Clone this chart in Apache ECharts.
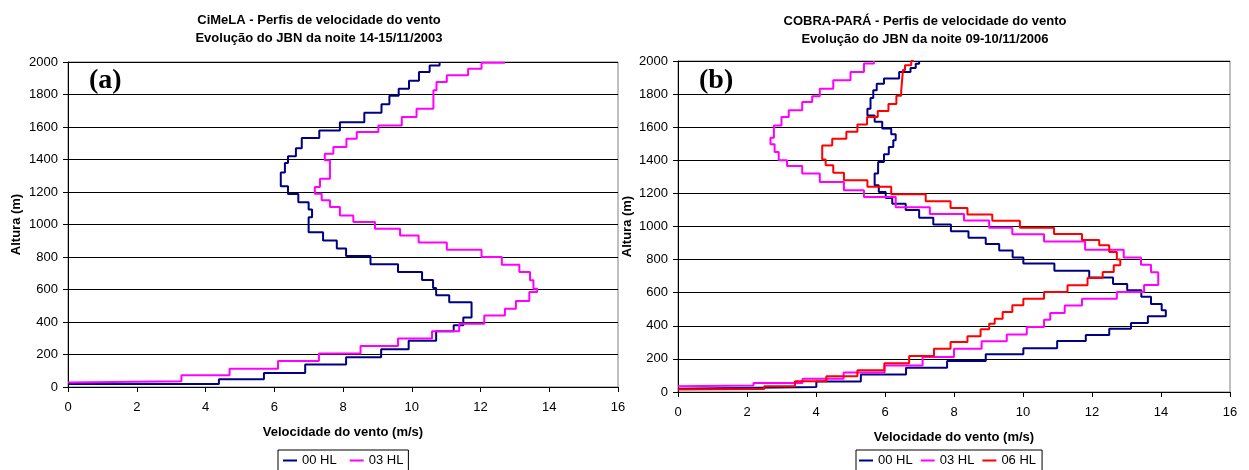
<!DOCTYPE html>
<html>
<head>
<meta charset="utf-8">
<script src="https://cdn.jsdelivr.net/npm/echarts@6/dist/echarts.min.js"></script>
<style>
  html, body { margin: 0; padding: 0; background: #ffffff; }
  #chart { width: 1249px; height: 470px; }
</style>
</head>
<body>
<div id="chart"></div>
<script>
// ---- Wind speed profiles: speed (m/s) per height level (m), bottom of each level ----

// (a) CiMeLA, night 14-15/11/2003
const cimela00Speed  = [0, 4.39, 5.70, 6.90, 8.09, 9.11, 9.91, 10.71, 11.22, 11.50, 11.74, 11.09, 10.71, 10.62, 10.30, 9.60, 8.80, 8.09, 7.82, 7.42, 7.00, 7.10, 7.00, 6.70, 6.40, 6.19, 6.31, 6.40, 6.63, 6.80, 7.31, 7.91, 8.62, 9.12, 9.35, 9.62, 9.92, 10.21, 10.52, 10.81, 10.81];
const cimela00Height = [18, 18, 47, 86, 138, 183, 232, 284, 343, 380, 428, 522, 565, 610, 658, 707, 756, 806, 853, 902, 952, 1045, 1092, 1137, 1188, 1235, 1320, 1378, 1420, 1470, 1532, 1578, 1630, 1688, 1740, 1792, 1836, 1884, 1938, 1978, 2000];

const cimela03Speed  = [0, 3.30, 4.70, 6.11, 7.30, 8.51, 9.60, 10.59, 11.38, 12.11, 12.71, 13.03, 13.42, 13.65, 13.54, 13.44, 13.13, 12.62, 12.03, 11.02, 10.20, 9.66, 8.93, 8.30, 7.91, 7.62, 7.38, 7.18, 7.33, 7.62, 7.47, 7.72, 8.10, 8.40, 9.03, 9.71, 10.14, 10.63, 10.72, 11.02, 11.64, 12.03, 12.71];
const cimela03Height = [27, 35, 72, 113, 160, 206, 253, 298, 343, 390, 440, 482, 530, 585, 605, 657, 708, 753, 800, 845, 890, 933, 974, 1015, 1056, 1108, 1149, 1190, 1231, 1282, 1395, 1436, 1477, 1528, 1569, 1610, 1662, 1713, 1826, 1877, 1918, 1959, 1996];

// (b) COBRA-PARÁ, night 09-10/11/2006
const cobra00Speed  = [0, 4.01, 5.30, 6.61, 7.80, 8.92, 10.01, 10.99, 11.82, 12.50, 13.13, 13.62, 14.14, 14.02, 13.71, 13.43, 13.02, 12.61, 11.92, 10.91, 10.01, 9.70, 9.31, 8.92, 8.42, 7.91, 7.40, 6.99, 6.60, 6.21, 6.02, 5.82, 5.70, 5.80, 5.97, 6.11, 6.24, 6.31, 6.18, 5.92, 5.70, 5.49, 5.58, 5.66, 5.76, 5.97, 6.41, 6.74, 6.89, 6.99, 6.99];
const cobra00Height = [20, 30, 63, 105, 147, 187, 228, 265, 308, 344, 382, 417, 457, 494, 532, 575, 615, 652, 692, 733, 776, 813, 855, 895, 932, 972, 1012, 1053, 1100, 1138, 1172, 1209, 1249, 1320, 1390, 1436, 1481, 1521, 1557, 1592, 1633, 1670, 1712, 1777, 1823, 1863, 1894, 1934, 1958, 1984, 2000];

const cobra03Speed  = [0, 2.19, 3.61, 4.80, 5.99, 7.09, 8.00, 8.80, 9.53, 10.11, 10.61, 10.79, 11.21, 11.71, 12.72, 13.51, 13.92, 13.71, 13.42, 12.92, 11.80, 10.61, 9.69, 9.02, 8.29, 7.30, 6.31, 5.39, 4.81, 4.11, 3.60, 3.16, 2.92, 2.80, 2.68, 2.78, 3.00, 3.21, 3.60, 3.89, 4.11, 4.50, 5.00, 5.39, 5.68, 5.68];
const cobra03Height = [35, 40, 55, 80, 118, 160, 212, 262, 307, 347, 393, 437, 477, 522, 563, 604, 646, 724, 769, 812, 859, 909, 953, 993, 1037, 1076, 1117, 1178, 1219, 1269, 1320, 1366, 1400, 1450, 1497, 1537, 1611, 1662, 1702, 1752, 1787, 1833, 1883, 1934, 1985, 2000];

const cobra06Speed  = [0, 2.50, 3.39, 4.30, 5.20, 5.98, 6.70, 7.42, 7.90, 8.39, 8.77, 9.02, 9.18, 9.41, 9.69, 10.01, 10.61, 11.29, 11.87, 12.31, 12.63, 12.82, 12.72, 12.50, 12.21, 11.71, 10.90, 9.91, 9.11, 8.39, 7.90, 7.18, 6.18, 5.49, 4.81, 4.50, 4.28, 4.18, 4.47, 4.88, 5.20, 5.48, 5.79, 6.10, 6.33, 6.47, 6.52, 6.58, 6.76, 6.84];
const cobra06Height = [15, 18, 35, 65, 95, 132, 173, 218, 262, 302, 337, 379, 413, 443, 484, 524, 564, 604, 645, 689, 725, 766, 800, 846, 886, 918, 955, 993, 1034, 1072, 1112, 1152, 1195, 1240, 1280, 1325, 1370, 1405, 1490, 1530, 1573, 1616, 1662, 1698, 1740, 1790, 1820, 1945, 1975, 2000];

// ---- Texts ----
const titleA = 'CiMeLA - Perfis de velocidade do vento\nEvolução do JBN da noite 14-15/11/2003';
const titleB = 'COBRA-PARÁ - Perfis de velocidade do vento\nEvolução do JBN da noite 09-10/11/2006';
const xTitle = 'Velocidade do vento (m/s)';
const yTitle = 'Altura (m)';
const legendA = ['00 HL', '03 HL'];
const legendB = ['00 HL', '03 HL', '06 HL'];

const COLORS = { '00 HL': '#000080', '03 HL': '#FF00FF', '06 HL': '#FF0000' };
const FONT = '"Liberation Sans", Arial, Helvetica, sans-serif';

function pairs(speed, height) {
  return speed.map((v, i) => [v, height[i]]);
}

function plainNumber(v) {
  return String(v);
}

function xAxisFor(gridIndex) {
  return {
    type: 'value', gridIndex: gridIndex, min: 0, max: 16, interval: 2,
    name: xTitle, nameLocation: 'middle', nameGap: 39,
    nameTextStyle: { fontFamily: FONT, fontSize: 13, fontWeight: 'bold', color: '#000' },
    axisLine: { show: true, onZero: false, lineStyle: { color: '#000', width: 1 } },
    axisTick: { show: true, inside: false, length: 5, lineStyle: { color: '#000', width: 1 } },
    axisLabel: { margin: 14, fontFamily: FONT, fontSize: 13, color: '#000', formatter: plainNumber },
    splitLine: { show: false }
  };
}

function yAxisFor(gridIndex, gap) {
  return {
    type: 'value', gridIndex: gridIndex, min: 0, max: 2000, interval: 200,
    name: yTitle, nameLocation: 'middle', nameGap: gap, nameRotate: 90,
    nameTextStyle: { fontFamily: FONT, fontSize: 13, fontWeight: 'bold', color: '#000' },
    axisLine: { show: true, onZero: false, lineStyle: { color: '#000', width: 1 } },
    axisTick: { show: true, inside: false, length: 5, lineStyle: { color: '#000', width: 1 } },
    axisLabel: { margin: 10, fontFamily: FONT, fontSize: 13, color: '#000', formatter: plainNumber },
    splitLine: { show: true, lineStyle: { color: '#000', width: 1 } }
  };
}

function profile(name, speed, height, idx) {
  return {
    name: name, type: 'line', xAxisIndex: idx, yAxisIndex: idx,
    data: pairs(speed, height),
    step: 'start',
    symbol: 'none', showSymbol: false,
    lineStyle: { color: COLORS[name], width: 2 },
    itemStyle: { color: COLORS[name] },
    emphasis: { disabled: true },
    z: 3
  };
}

function legendFor(names, left, gap, padding) {
  return {
    data: names, left: left, top: 450, orient: 'horizontal',
    icon: 'rect', itemWidth: 14, itemHeight: 2, itemGap: gap,
    padding: padding, borderColor: '#000', borderWidth: 1, backgroundColor: '#fff',
    selectedMode: false,
    textStyle: { fontFamily: FONT, fontSize: 13, color: '#000' }
  };
}

const chart = echarts.init(document.getElementById('chart'), null, { renderer: 'canvas' });

chart.setOption({
  animation: false,
  backgroundColor: '#ffffff',
  title: [
    { text: titleA, left: 319, top: 11, textAlign: 'center', padding: 0,
      textStyle: { fontFamily: FONT, fontSize: 13, fontWeight: 'bold', lineHeight: 18, color: '#000' } },
    { text: titleB, left: 925, top: 12.5, textAlign: 'center', padding: 0,
      textStyle: { fontFamily: FONT, fontSize: 13, fontWeight: 'bold', lineHeight: 18, color: '#000' } }
  ],
  grid: [
    { left: 68, top: 62, width: 550, height: 325, show: true, borderColor: '#808080', borderWidth: 1, containLabel: false, outerBoundsMode: 'none' },
    { left: 678, top: 61, width: 552, height: 331, show: true, borderColor: '#808080', borderWidth: 1, containLabel: false, outerBoundsMode: 'none' }
  ],
  xAxis: [xAxisFor(0), xAxisFor(1)],
  yAxis: [yAxisFor(0, 45), yAxisFor(1, 44)],
  legend: [
    legendFor(legendA, 278, 13, [4, 5, 4, 5]),
    legendFor(legendB, 856, 8, [4, 6, 4, 3])
  ],
  graphic: [
    { type: 'text', x: 89, y: 81, z: 10,
      style: { text: '(a)', font: 'bold 28px "Liberation Serif", "Times New Roman", serif', fill: '#000', align: 'left', verticalAlign: 'middle' } },
    { type: 'text', x: 699, y: 81, z: 10,
      style: { text: '(b)', font: 'bold 28px "Liberation Serif", "Times New Roman", serif', fill: '#000', align: 'left', verticalAlign: 'middle' } }
  ],
  series: [
    profile('00 HL', cimela00Speed, cimela00Height, 0),
    profile('03 HL', cimela03Speed, cimela03Height, 0),
    profile('00 HL', cobra00Speed, cobra00Height, 1),
    profile('03 HL', cobra03Speed, cobra03Height, 1),
    profile('06 HL', cobra06Speed, cobra06Height, 1)
  ]
});
</script>
</body>
</html>
